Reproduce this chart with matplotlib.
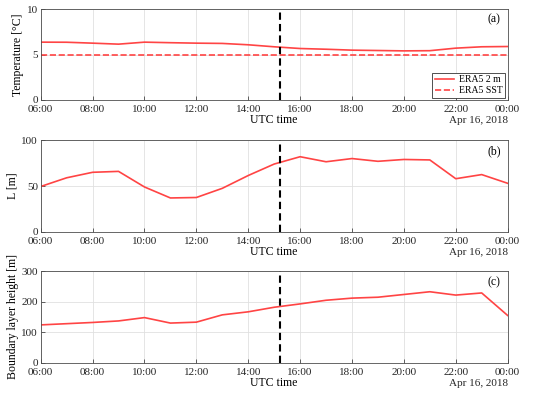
import numpy as np
import pandas as pd
import matplotlib
matplotlib.use('Agg')
import matplotlib.pyplot as plt
import matplotlib.dates as mdates

plt.rcParams['font.family'] = ['Liberation Serif', 'DejaVu Serif']

# hourly times, 06:00 Apr 16 to 00:00 Apr 17
times = pd.date_range('2018-04-16 06:00', '2018-04-17 00:00', freq='h')

t2m = [6.36, 6.35, 6.25, 6.14, 6.36, 6.30, 6.25, 6.22, 6.07, 5.85,
       5.66, 5.58, 5.48, 5.44, 5.40, 5.42, 5.70, 5.85, 5.88]
sst = [5.0] * 19
obukhov = [49.5, 59, 65, 66, 49, 37, 37.5, 47.5, 61.5, 74,
           82, 76.5, 80, 77, 79, 78.5, 58, 62.5, 53]
blh = [124, 128, 132, 137, 148, 130, 133, 157, 167, 182,
       193, 205, 212, 215, 224, 233, 222, 229, 155]

event_time = pd.Timestamp('2018-04-16 15:13')
red = '#ff4444'

fig = plt.figure(figsize=(5.5, 3.95), dpi=100)
ax_a = fig.add_axes([0.074, 0.747, 0.849, 0.230])
ax_b = fig.add_axes([0.074, 0.413, 0.849, 0.232])
ax_c = fig.add_axes([0.074, 0.082, 0.849, 0.231])

ax_a.plot(times, t2m, color=red, lw=1.2, label='ERA5 2 m')
ax_a.plot(times, sst, color=red, lw=1.2, ls='--', label='ERA5 SST')
ax_a.set_ylim(0, 10)
ax_a.set_yticks([0, 5, 10])
ax_a.set_ylabel('Temperature [°C]', fontsize=8.5, labelpad=2)
leg = ax_a.legend(loc='lower right', fontsize=7, fancybox=False, framealpha=1,
                  edgecolor='0.2', handlelength=2.0, handletextpad=0.5,
                  borderpad=0.25, labelspacing=0.2, borderaxespad=0.25)
leg.get_frame().set_linewidth(0.6)

ax_b.plot(times, obukhov, color=red, lw=1.2)
ax_b.set_ylim(0, 100)
ax_b.set_yticks([0, 50, 100])
ax_b.set_ylabel('L [m]', fontsize=8.5, labelpad=2)

ax_c.plot(times, blh, color=red, lw=1.2)
ax_c.set_ylim(0, 300)
ax_c.set_yticks([0, 100, 200, 300])
ax_c.set_ylabel('Boundary layer height [m]', fontsize=8.5, labelpad=2)

for ax, tag in zip([ax_a, ax_b, ax_c], ['(a)', '(b)', '(c)']):
    ax.axvline(event_time, color='black', ls='--', lw=1.5, dashes=(3.5, 2))
    ax.set_xlim(times[0], times[-1])
    ax.xaxis.set_major_locator(mdates.HourLocator(interval=2))
    ax.xaxis.set_major_formatter(mdates.DateFormatter('%H:%M'))
    ax.grid(True, color='0.88', lw=0.6)
    ax.set_axisbelow(True)
    ax.tick_params(direction='in', labelsize=8, length=3, width=0.5,
                   colors='0.15', top=False, right=False)
    ax.tick_params(axis='x', pad=4)
    ax.tick_params(axis='y', pad=2)
    for s in ax.spines.values():
        s.set_linewidth(0.6)
        s.set_color('0.3')
    ax.set_xlabel('UTC time', fontsize=8.5, labelpad=0)
    ax.text(0.985, 0.95, tag, transform=ax.transAxes, ha='right', va='top', fontsize=8.5)
    ax.text(1.0, -0.18, 'Apr 16, 2018', transform=ax.transAxes, ha='right', va='top',
            fontsize=8, color='0.15')

fig.savefig('out.png', dpi=100)
